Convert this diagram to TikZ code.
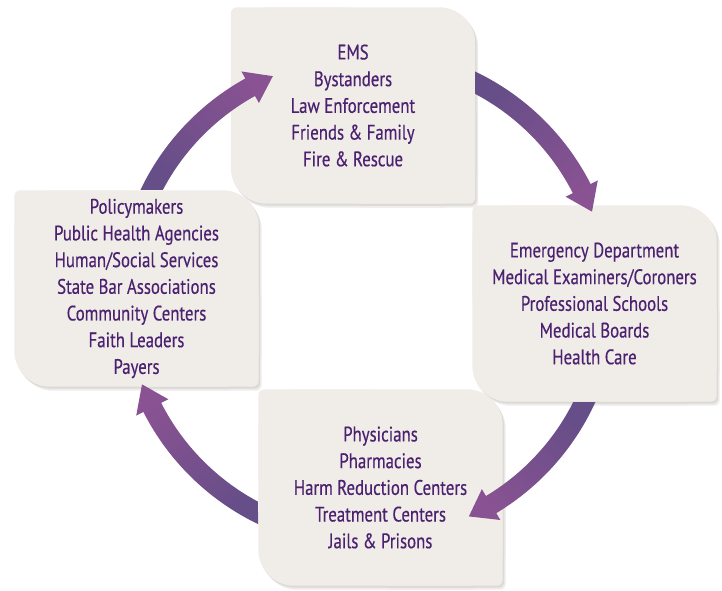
\documentclass[tikz,border=0pt]{standalone}
\usepackage{fontspec}
\setmainfont{PT Sans}[FakeStretch=0.8,FakeBold=0.4]
\usetikzlibrary{positioning,backgrounds}
\definecolor{boxbg}{HTML}{F0EDE9}
\definecolor{boxshade}{HTML}{DCDAD7}
\definecolor{boxtext}{HTML}{4B2170}
\definecolor{arrowdark}{HTML}{664E88}
\definecolor{arrowlight}{HTML}{895292}
\tikzset{leaf/.style={minimum width=244pt, minimum height=196pt, inner sep=0pt,
    align=center, text=boxtext, font=\fontsize{21}{26.7}\selectfont}
}
% box with two big and two small corners
\newcommand{\leafpath}[2]{%
  \fill[rounded corners=36pt] ([shift={#2}]#1.south west) rectangle ([shift={#2}]#1.north east);
  \fill[rounded corners=6pt] ([shift={#2}]#1.north west) rectangle ([shift={#2}]#1.center);
  \fill[rounded corners=6pt] ([shift={#2}]#1.center) rectangle ([shift={#2}]#1.south east);
}

\begin{document}
\begin{tikzpicture}[x=1pt,y=1pt]
    \useasboundingbox (0,0) rectangle (722,590);
    \coordinate (hub) at (367,292);
    \node[leaf] (respond) at (353,484.5) {EMS\\Bystanders\\Law Enforcement\\Friends \& Family\\Fire \& Rescue};
    \node[leaf] (hospital) at (594.5,286.5) {Emergency Department\\Medical Examiners/Coroners\\Professional Schools\\Medical Boards\\Health Care};
    \node[leaf] (treat) at (380.5,102.5) {Physicians\\Pharmacies\\Harm Reduction Centers\\Treatment Centers\\Jails \& Prisons};
    \node[leaf] (policy) at (136.5,301.5) {Policymakers\\Public Health Agencies\\Human/Social Services\\State Bar Associations\\Community Centers\\Faith Leaders\\Payers};
    \begin{scope}[on background layer]
        \foreach \n in {respond,hospital,treat,policy} {
            \begin{scope}[fill=boxshade!50]\leafpath{\n}{(3pt,-4pt)}\end{scope}
            \begin{scope}[fill=boxshade]\leafpath{\n}{(1.5pt,-2pt)}\end{scope}
        }
        \foreach \n in {respond,hospital,treat,policy} {
            \begin{scope}[fill=boxbg]\leafpath{\n}{(0pt,0pt)}\end{scope}
        }
    \end{scope}
    % cycle arrows round the hub
    \begin{scope}[shift={(hub)}]
        \foreach \a/\b/\t/\s in {154.5/152.1/113/-48, 64.5/62.1/21/-138, -24.5/-26.8/-65/-226, -115.7/-118.2/-159/42}
            \shade[top color=arrowlight, bottom color=arrowdark, shading angle=\s]
                (\a:251) arc[start angle=\a, end angle=\t+6, radius=251]
                -- ({\t+6}:259) -- (\t:241) -- ({\t+6}:223) -- ({\t+6}:231)
                arc[start angle=\t+6, end angle=\b, radius=231] -- cycle;
    \end{scope}
\end{tikzpicture}
\end{document}
